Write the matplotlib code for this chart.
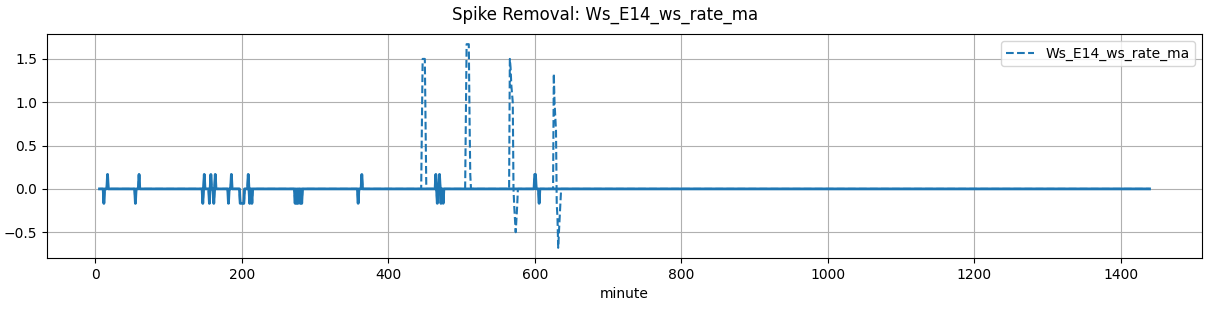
import numpy as np
import matplotlib
matplotlib.use("Agg")
import matplotlib.pyplot as plt

# minute range of the moving-average rate series
first_minute = 6
last_minute = 1439

# non-zero samples of the raw rate (minute -> value); every other minute is 0
spike_minutes = [
    12, 17,
    55, 60,
    147, 149, 156, 158, 162, 164, 182, 186,
    198, 199, 200, 201, 202, 203, 209, 211, 214,
    273, 275, 277, 280, 282,
    359, 364,
    446, 447, 448, 449, 450, 451,
    465, 467, 470, 472, 475,
    506, 507, 508, 509, 510, 511, 512,
    566, 567, 568, 569, 570, 572, 573, 574, 575, 576,
    600, 601, 606,
    626, 627, 628, 629, 630, 631, 632, 633, 634, 635,
]
spike_values = [
    -1/6, 1/6,
    -1/6, 1/6,
    -1/6, 1/6, -1/6, 1/6, -1/6, 1/6, -1/6, 1/6,
    -1/6, -1/6, -1/6, -1/6, -1/6, -1/6, 1/6, -1/6, -1/6,
    -1/6, -1/6, -1/6, -1/6, -1/6,
    -1/6, 1/6,
    0.75, 1.5, 1.5, 1.5, 1.5, 0.75,
    1/6, -1/6, 1/6, -1/6, -1/6,
    0.83, 1.67, 1.67, 1.67, 1.67, 0.83, 1/6,
    1.5, 1.4, 1.2, 1.1, 1.0, -0.2, -0.35, -0.5, -0.35, -0.2,
    1/6, 1/6, -1/6,
    1.33, 1.0, 0.83, 0.67, -0.17, -0.33, -0.68, -0.5, -0.33, -0.17,
]

# windows flagged as spikes and zeroed in the cleaned series
removed_start = [446, 506, 566, 626]
removed_end = [452, 513, 577, 636]

minutes = np.arange(first_minute, last_minute + 1)
raw = np.zeros(len(minutes))
for m, v in zip(spike_minutes, spike_values):
    raw[m - first_minute] = v

cleaned = raw.copy()
for a, b in zip(removed_start, removed_end):
    cleaned[(minutes >= a) & (minutes <= b)] = 0.0

fig, ax = plt.subplots(figsize=(12.11, 3.11), dpi=100)
ax.plot(minutes, raw, "--", color="#1f77b4", label="Ws_E14_ws_rate_ma")
ax.plot(minutes, cleaned, "-", color="#1f77b4", lw=2, label="_cleaned")
ax.set_xlabel("minute")
ax.grid(True)
ax.legend(loc="upper right")
fig.suptitle("Spike Removal: Ws_E14_ws_rate_ma")
fig.subplots_adjust(left=0.0388, right=0.9926, top=0.8907, bottom=0.1704)
fig.savefig("out.png", dpi=100)
